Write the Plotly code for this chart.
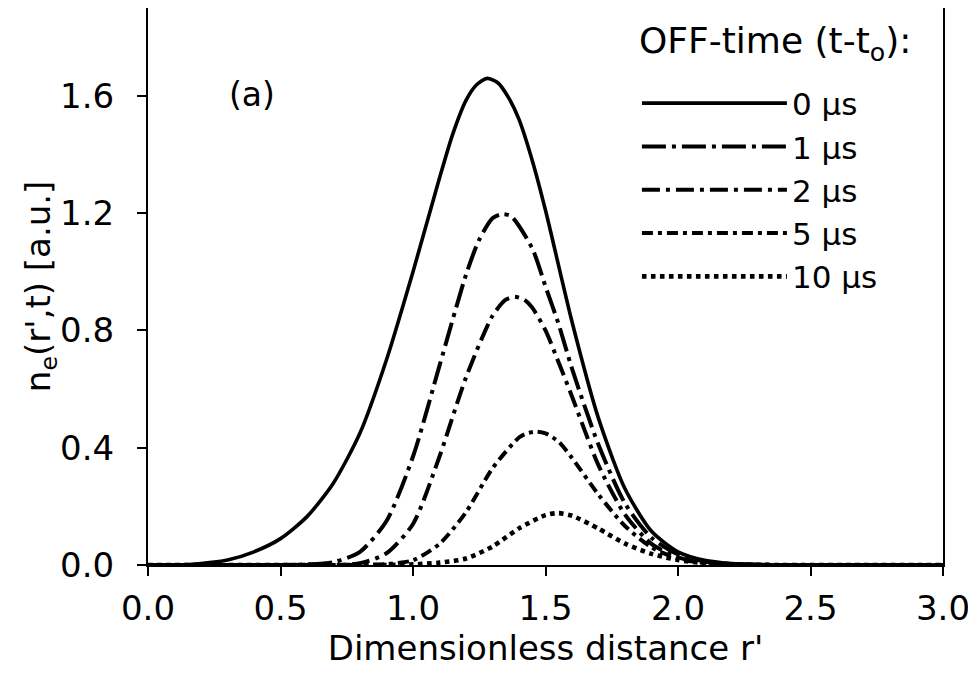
import plotly.graph_objects as go

# ---- data ----
r_0us = [0.0, 0.1, 0.2, 0.3, 0.4, 0.5, 0.6, 0.7, 0.8, 0.9, 1.0, 1.1, 1.15, 1.2, 1.24, 1.28, 1.32, 1.36, 1.4, 1.45, 1.5, 1.6, 1.7, 1.8, 1.9, 2.0, 2.1, 2.2, 2.3, 2.5, 2.75, 3.0]
n_0us = [0.0, 0.0, 0.005, 0.017, 0.045, 0.09, 0.165, 0.28, 0.45, 0.70, 1.00, 1.32, 1.47, 1.585, 1.638, 1.66, 1.645, 1.595, 1.52, 1.38, 1.21, 0.83, 0.50, 0.26, 0.115, 0.045, 0.016, 0.005, 0.001, 0.0, 0.0, 0.0]

r_1us = [0.0, 0.25, 0.5, 0.6, 0.7, 0.8, 0.9, 1.0, 1.1, 1.2, 1.25, 1.3, 1.335, 1.37, 1.45, 1.5, 1.55, 1.6, 1.7, 1.8, 1.9, 2.0, 2.1, 2.2, 2.4, 2.7, 3.0]
n_1us = [0.0, 0.0, 0.0, 0.002, 0.01, 0.045, 0.15, 0.37, 0.68, 0.99, 1.11, 1.183, 1.197, 1.19, 1.08, 0.95, 0.82, 0.67, 0.41, 0.21, 0.093, 0.036, 0.012, 0.004, 0.0, 0.0, 0.0]

r_2us = [0.0, 0.3, 0.6, 0.7, 0.8, 0.9, 1.0, 1.1, 1.2, 1.3, 1.35, 1.383, 1.42, 1.45, 1.5, 1.55, 1.6, 1.7, 1.8, 1.9, 2.0, 2.1, 2.2, 2.4, 2.7, 3.0]
n_2us = [0.0, 0.0, 0.0, 0.0, 0.006, 0.04, 0.14, 0.37, 0.64, 0.85, 0.905, 0.915, 0.905, 0.878, 0.80, 0.69, 0.575, 0.34, 0.172, 0.072, 0.026, 0.008, 0.002, 0.0, 0.0, 0.0]

r_5us = [0.0, 0.3, 0.6, 0.8, 0.9, 1.0, 1.1, 1.2, 1.3, 1.4, 1.43, 1.466, 1.5, 1.55, 1.6, 1.7, 1.8, 1.9, 2.0, 2.1, 2.2, 2.4, 2.7, 3.0]
n_5us = [0.0, 0.0, 0.0, 0.0, 0.003, 0.016, 0.072, 0.18, 0.33, 0.435, 0.449, 0.455, 0.449, 0.42, 0.365, 0.24, 0.133, 0.06, 0.022, 0.007, 0.002, 0.0, 0.0, 0.0]

r_10us = [0.0, 0.3, 0.6, 0.9, 1.0, 1.1, 1.2, 1.3, 1.4, 1.5, 1.55, 1.6, 1.7, 1.8, 1.9, 2.0, 2.1, 2.2, 2.4, 2.7, 3.0]
n_10us = [0.0, 0.0, 0.0, 0.0, 0.002, 0.008, 0.022, 0.063, 0.125, 0.17, 0.177, 0.168, 0.124, 0.073, 0.038, 0.017, 0.006, 0.002, 0.0, 0.0, 0.0]

series_names = ["0 µs", "1 µs", "2 µs", "5 µs", "10 µs"]
x_ticks = [0.0, 0.5, 1.0, 1.5, 2.0, 2.5, 3.0]
y_ticks = [0.0, 0.4, 0.8, 1.2, 1.6]

FONT = "DejaVu Sans, Liberation Sans, sans-serif"

styles = [
    dict(width=3.6, dash="solid"),
    dict(width=4.0, dash="24px,6px,4px,6px"),
    dict(width=4.0, dash="18px,6px,4px,6px"),
    dict(width=4.0, dash="11px,5px,4px,5px"),
    dict(width=4.6, dash="4.6px,4.4px"),
]

data = [(r_0us, n_0us), (r_1us, n_1us), (r_2us, n_2us), (r_5us, n_5us), (r_10us, n_10us)]

fig = go.Figure()
for i, ((xs, ys), name, st) in enumerate(zip(data, series_names, styles)):
    fig.add_trace(go.Scatter(
        x=xs, y=ys, mode="lines", name=name, legendgroup=f"g{i}",
        line=dict(color="black", width=st["width"], dash=st["dash"], shape="spline", smoothing=0.7),
    ))

fig.update_layout(
    width=976, height=688,
    paper_bgcolor="white", plot_bgcolor="white",
    margin=dict(l=140, r=41, t=0, b=131, autoexpand=False),
    font=dict(family=FONT, color="black", size=32),
    showlegend=True,
    legend=dict(
        x=0.615, y=0.877, xanchor="left", yanchor="top",
        bgcolor="rgba(0,0,0,0)",
        font=dict(family=FONT, size=31),
        tracegroupgap=0,
        itemwidth=145,
    ),
    annotations=[
        dict(text="(a)", x=0.131, y=0.845, xref="paper", yref="paper",
             xanchor="center", yanchor="middle",
             showarrow=False, font=dict(family=FONT, size=33)),
        dict(text="OFF-time (t-t<sub>o</sub>):", x=0.615, y=0.937, xref="paper", yref="paper",
             xanchor="left", yanchor="middle", showarrow=False, font=dict(family=FONT, size=36)),
        dict(text="n<sub>e</sub>(r',t) [a.u.]", x=-0.135, y=0.50, xref="paper", yref="paper",
             xanchor="center", yanchor="middle", textangle=-90, showarrow=False,
             font=dict(family=FONT, size=34)),
    ],
)

fig.update_xaxes(
    range=[0, 3], tickvals=x_ticks, tickformat=".1f",
    showgrid=False, zeroline=False,
    showline=True, linecolor="black", linewidth=2, mirror=True,
    ticks="outside", ticklen=9, tickwidth=2, tickcolor="black",
    ticklabelstandoff=3,
    tickfont=dict(family=FONT, size=34),
    title=dict(text="Dimensionless distance r'", font=dict(family=FONT, size=34), standoff=1),
)
fig.update_yaxes(
    range=[0, 1.9], tickvals=y_ticks, tickformat=".1f",
    showgrid=False, zeroline=False,
    showline=True, linecolor="black", linewidth=2, mirror=True,
    ticks="outside", ticklen=9, tickwidth=2, tickcolor="black",
    ticklabelstandoff=16,
    tickfont=dict(family=FONT, size=34),
)

fig.write_html("out.html")
